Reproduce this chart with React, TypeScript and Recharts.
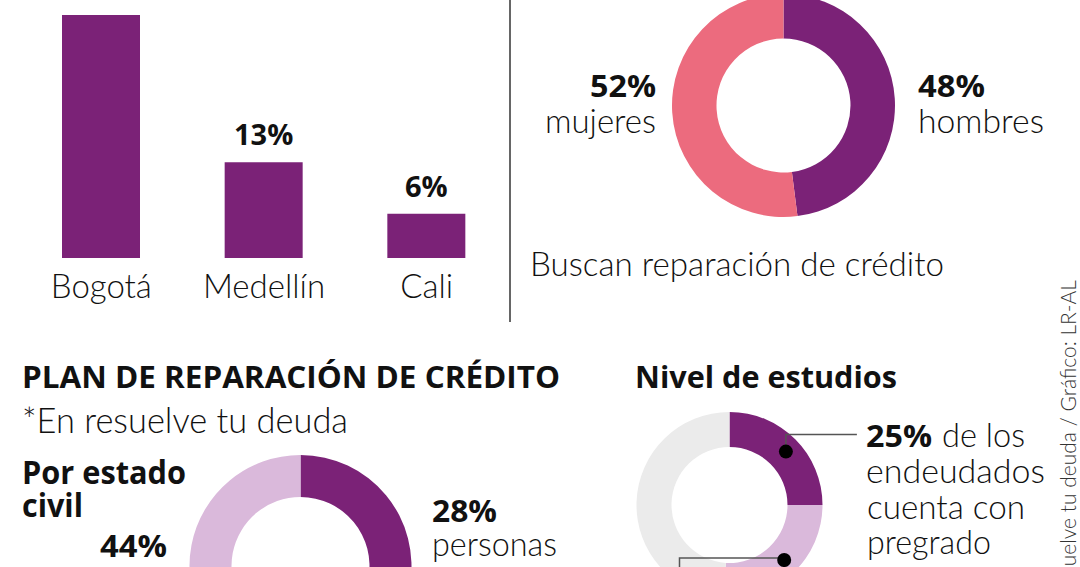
import { Bar, BarChart, Cell, LabelList, Pie, PieChart, XAxis, YAxis } from "recharts";

// ciudades
const cities = ["Bogotá", "Medellín", "Cali"];
const cityShare = [33, 13, 6];

// género
const genderNames = ["hombres", "mujeres"];
const genderShare = [48, 52];

// estado civil (the lower half of the ring is outside the crop)
const civilNames = ["personas", "otros", "44%"];
const civilShare = [28, 28, 44];

// nivel de estudios
const studyNames = ["pregrado", "otro nivel", "resto"];
const studyShare = [25, 26, 49];

const PURPLE = "#7b2277";
const PINK = "#ec6b7e";
const LAVENDER = "#dab9db";
const GRAY = "#ebebeb";
const FONT = "'Open Sans', 'Noto Sans', sans-serif";
const LIGHT_FONT = "Lato, 'Open Sans', sans-serif";

const cityData = cities.map((name, i) => ({ name, value: cityShare[i] }));
const genderData = genderNames.map((name, i) => ({ name, value: genderShare[i] }));
const civilData = civilNames.map((name, i) => ({ name, value: civilShare[i] }));
const studyData = studyNames.map((name, i) => ({ name, value: studyShare[i] }));

const RAD = Math.PI / 180;

function CityTick(props: any) {
  const { x, y, payload } = props;
  return (
    <text x={x} y={y + 40} textAnchor="middle" fontFamily={LIGHT_FONT} fontWeight={300} fontSize={33} fill="#111">
      {payload.value}
    </text>
  );
}

function BarValue(props: any) {
  const { x, y, width, value } = props;
  return (
    <text x={x + width / 2} y={y - 17} textAnchor="middle" fontFamily={FONT} fontWeight={700} fontSize={29} fill="#111">
      {value}%
    </text>
  );
}

// dot + leader line for the study ring
function StudyMarker(props: any) {
  const { cx, cy, midAngle, innerRadius, outerRadius, index } = props;
  if (index > 1) return null;
  const r = (innerRadius + outerRadius) / 2;
  const px = cx + r * Math.cos(-midAngle * RAD) + 3;
  const py = cy + r * Math.sin(-midAngle * RAD);
  const path =
    index === 0
      ? `M${px},${py} V${py - 17} H${px + 71}`
      : `M${px},${py - 2} H${cx - 50} V${cy + 80}`;
  return (
    <g>
      <path d={path} fill="none" stroke="#555" strokeWidth={1.5} />
      <circle cx={px} cy={py} r={7} fill="#000" />
    </g>
  );
}

const light = { fontFamily: LIGHT_FONT, fontWeight: 300, fill: "#111" };
const bold = { fontFamily: FONT, fontWeight: 700, fill: "#111" };

export default function App() {
  return (
    <div style={{ position: "fixed", left: 0, top: 0, width: 1080, height: 567, overflow: "hidden", background: "#fff" }}>
      <div style={{ position: "absolute", left: 0, top: 0 }}>
        <BarChart width={510} height={330} data={cityData} margin={{ top: 15, right: 2, bottom: 0, left: 20 }}>
          <XAxis dataKey="name" height={72} axisLine={false} tickLine={false} tickSize={0} tickMargin={0} tick={<CityTick />} />
          <YAxis hide domain={[0, 33]} allowDataOverflow />
          <Bar dataKey="value" fill={PURPLE} barSize={78} isAnimationActive={false}>
            <LabelList dataKey="value" content={<BarValue />} />
          </Bar>
        </BarChart>
      </div>

      <div style={{ position: "absolute", left: 0, top: 0 }}>
        <PieChart width={1080} height={567} margin={{ top: 0, right: 0, bottom: 0, left: 0 }}>
          <Pie data={genderData} dataKey="value" cx={783.5} cy={105.5} innerRadius={67} outerRadius={111.5}
            startAngle={90} endAngle={-270} stroke="none" isAnimationActive={false}>
            <Cell fill={PURPLE} />
            <Cell fill={PINK} />
          </Pie>
          <Pie data={civilData} dataKey="value" cx={300.5} cy={566} innerRadius={69} outerRadius={111}
            startAngle={90} endAngle={-270} stroke="none" isAnimationActive={false}>
            <Cell fill={PURPLE} />
            <Cell fill={PINK} />
            <Cell fill={LAVENDER} />
          </Pie>
          <Pie data={studyData} dataKey="value" cx={729.5} cy={505} innerRadius={58} outerRadius={93}
            startAngle={90} endAngle={-270} stroke="none" isAnimationActive={false}
            label={<StudyMarker />} labelLine={false}>
            <Cell fill={PURPLE} />
            <Cell fill={LAVENDER} />
            <Cell fill={GRAY} />
          </Pie>
        </PieChart>
      </div>

      <svg width={1080} height={567} style={{ position: "absolute", left: 0, top: 0, pointerEvents: "none" }}>
        <line x1={510} y1={0} x2={510} y2={322} stroke="#333" strokeWidth={1.5} />

        <text x={656} y={97} textAnchor="end" fontSize={30} textLength={66} lengthAdjust="spacingAndGlyphs" {...bold}>52%</text>
        <text x={656} y={133} textAnchor="end" fontSize={34} textLength={111} lengthAdjust="spacingAndGlyphs" {...light}>mujeres</text>
        <text x={918} y={97} fontSize={30} textLength={67} lengthAdjust="spacingAndGlyphs" {...bold}>48%</text>
        <text x={918} y={133} fontSize={34} textLength={126} lengthAdjust="spacingAndGlyphs" {...light}>hombres</text>
        <text x={530} y={276} fontSize={34} textLength={414} lengthAdjust="spacingAndGlyphs" {...light}>Buscan reparación de crédito</text>

        <text x={22} y={388} fontSize={30} textLength={538} lengthAdjust="spacingAndGlyphs" {...bold}>PLAN DE REPARACIÓN DE CRÉDITO</text>
        <text x={22} y={433} fontSize={35} textLength={326} lengthAdjust="spacingAndGlyphs" {...light}>*En resuelve tu deuda</text>
        <text x={22} y={484} fontSize={32} textLength={164} lengthAdjust="spacingAndGlyphs" {...bold}>Por estado</text>
        <text x={22} y={517} fontSize={32} textLength={61} lengthAdjust="spacingAndGlyphs" {...bold}>civil</text>
        <text x={100} y={557} fontSize={30} textLength={67} lengthAdjust="spacingAndGlyphs" {...bold}>44%</text>
        <text x={432} y={522} fontSize={30} textLength={65} lengthAdjust="spacingAndGlyphs" {...bold}>28%</text>
        <text x={432} y={556} fontSize={34} textLength={125} lengthAdjust="spacingAndGlyphs" {...light}>personas</text>

        <text x={635} y={388} fontSize={30} textLength={262} lengthAdjust="spacingAndGlyphs" {...bold}>Nivel de estudios</text>
        <text x={866} y={447} fontSize={30} textLength={66} lengthAdjust="spacingAndGlyphs" {...bold}>25%</text>
        <text x={942} y={447} fontSize={34} textLength={83} lengthAdjust="spacingAndGlyphs" {...light}>de los</text>
        <text x={866} y={483} fontSize={34} textLength={179} lengthAdjust="spacingAndGlyphs" {...light}>endeudados</text>
        <text x={867} y={519} fontSize={34} textLength={158} lengthAdjust="spacingAndGlyphs" {...light}>cuenta con</text>
        <text x={867} y={554} fontSize={34} textLength={124} lengthAdjust="spacingAndGlyphs" {...light}>pregrado</text>

        <text x={1076} y={280} transform="rotate(-90 1076 280)" textAnchor="end" fontSize={21} fontFamily={LIGHT_FONT} fontWeight={300} fill="#333">
          Fuente: Resuelve tu deuda / Gráfico: LR-AL
        </text>
      </svg>
    </div>
  );
}
